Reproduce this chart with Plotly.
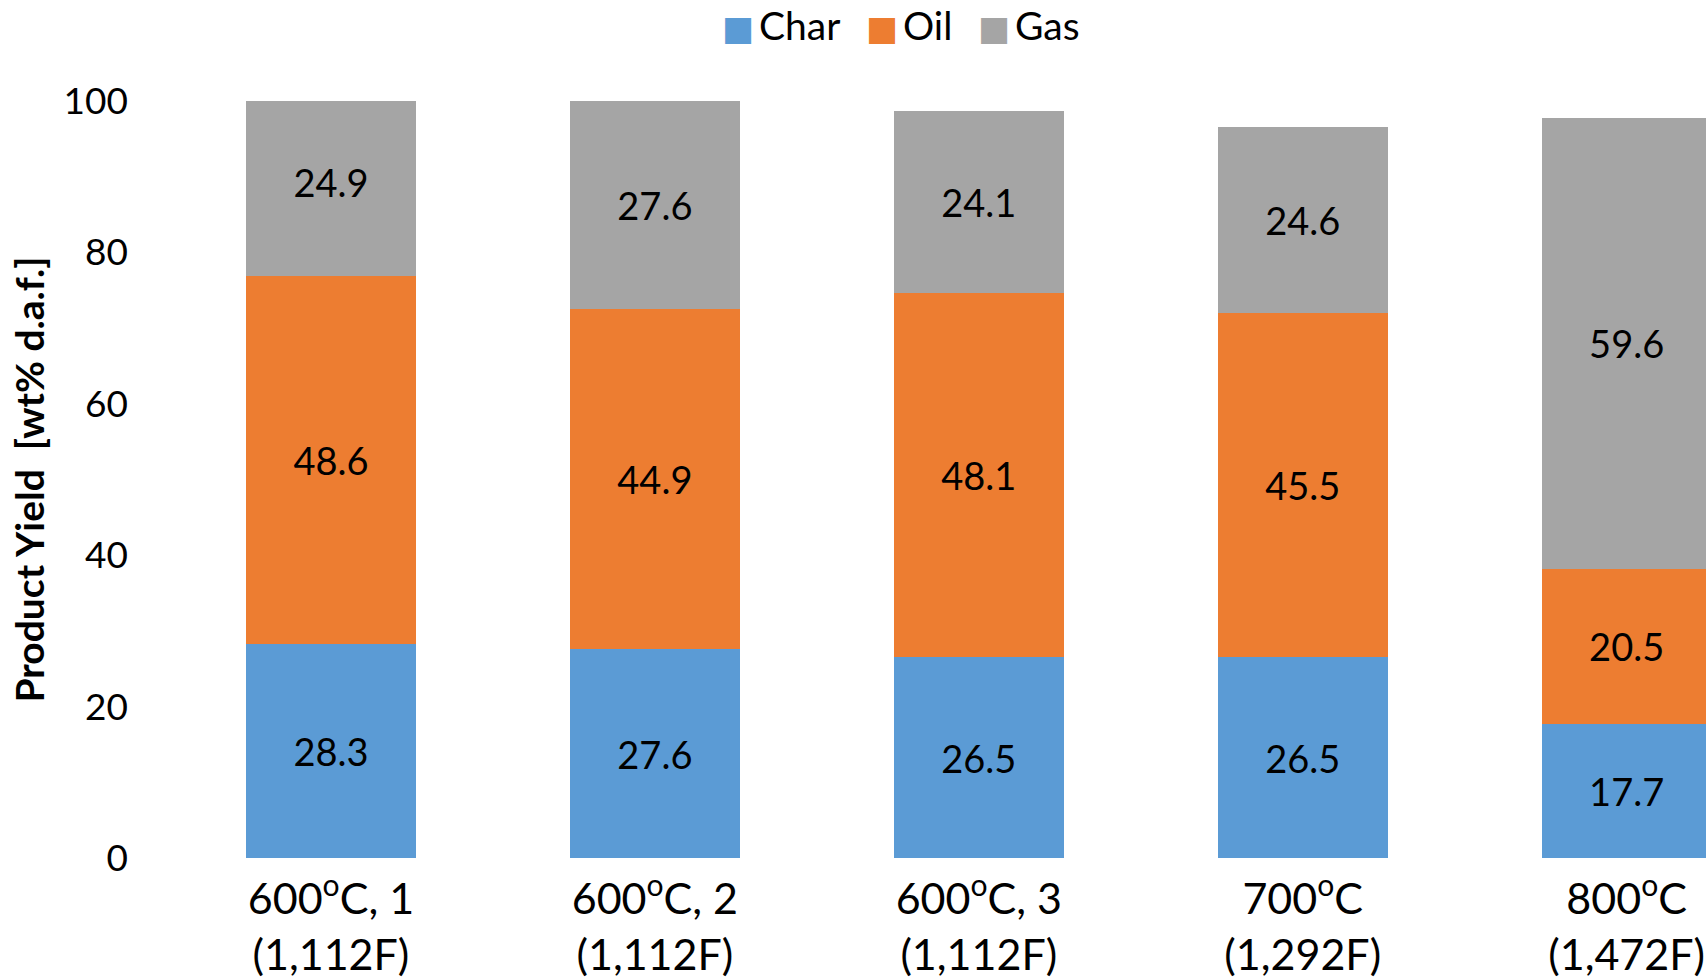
import plotly.graph_objects as go

# Product yields (wt% d.a.f.) per run condition
categories = [
    "600<sup>o</sup>C, 1<br>(1,112F)",
    "600<sup>o</sup>C, 2<br>(1,112F)",
    "600<sup>o</sup>C, 3<br>(1,112F)",
    "700<sup>o</sup>C<br>(1,292F)",
    "800<sup>o</sup>C<br>(1,472F)",
]
char = [28.3, 27.6, 26.5, 26.5, 17.7]
oil = [48.6, 44.9, 48.1, 45.5, 20.5]
gas = [24.9, 27.6, 24.1, 24.6, 59.6]

y_ticks = [0, 20, 40, 60, 80, 100]

FONT = "Lato, 'Open Sans', sans-serif"

series = [
    ("Char", char, "#5B9BD5"),
    ("Oil", oil, "#ED7D31"),
    ("Gas", gas, "#A5A5A5"),
]

fig = go.Figure()
x_idx = list(range(len(categories)))
for name, vals, color in series:
    fig.add_trace(go.Bar(
        name=name,
        x=x_idx,
        y=vals,
        marker=dict(color=color, line=dict(width=0)),
        text=[f"{v:.1f}" for v in vals],
        textposition="inside",
        insidetextanchor="middle",
        constraintext="none",
        textfont=dict(family=FONT, size=38, color="black"),
        hoverinfo="skip",
        showlegend=False,
    ))

# Legend row above the plot: large colour swatch followed by the series name
legend_x = [0.3587, 0.4521, 0.5251]
for (name, _, color), lx in zip(series, legend_x):
    fig.add_annotation(
        xref="paper", yref="paper",
        x=lx, y=1.1007,
        xanchor="left", yanchor="middle",
        showarrow=False,
        text=(f"<span style='font-family:DejaVu Sans;font-size:34px;color:{color}'>■</span>"
              f"\u2009{name}"),
        font=dict(family=FONT, size=39, color="black"),
    )

fig.update_layout(
    barmode="stack",
    bargap=0.475,
    width=1706,
    height=978,
    margin=dict(l=169, r=0, t=101, b=120, autoexpand=False),
    paper_bgcolor="white",
    plot_bgcolor="white",
    font=dict(family=FONT, color="black"),
    showlegend=False,
    xaxis=dict(
        tickmode="array",
        tickvals=x_idx,
        ticktext=categories,
        range=[-0.5, 4.245],
        showgrid=False,
        showline=False,
        zeroline=False,
        ticks="",
        ticklabelstandoff=12,
        tickfont=dict(family=FONT, size=43),
    ),
    yaxis=dict(
        range=[0, 100],
        tickvals=y_ticks,
        showgrid=False,
        showline=False,
        zeroline=False,
        ticks="",
        ticklabelstandoff=40,
        tickfont=dict(family=FONT, size=37),
        title=dict(
            text="<b>Product Yield  [wt% d.a.f.]</b>",
            font=dict(family=FONT, size=39),
            standoff=6,
        ),
    ),
)

fig.write_html("out.html")
